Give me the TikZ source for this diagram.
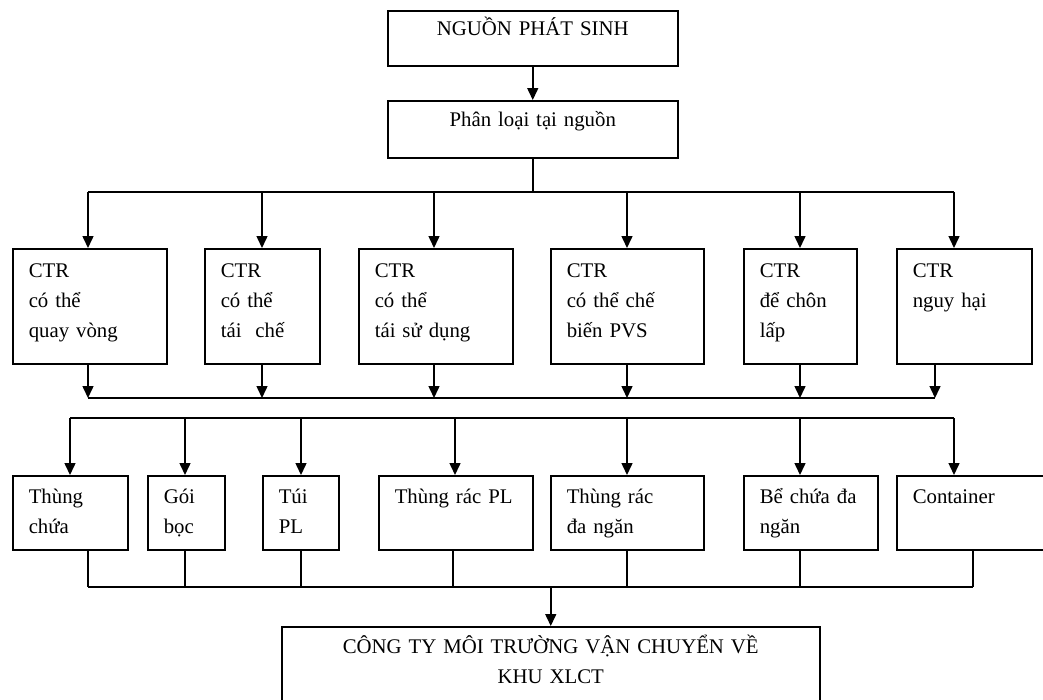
\documentclass[tikz,border=0pt]{standalone}
\usepackage{fontspec}
\setmainfont{Liberation Serif}
\usetikzlibrary{arrows.meta}

\begin{document}
\begin{tikzpicture}[x=1pt,y=-1pt,line width=1.5pt,>={Triangle[length=12pt,width=11pt]},
  every node/.style={font=\fontsize{20.8}{30}\selectfont},
  cell/.style={draw, anchor=north west, inner xsep=16pt, inner ysep=0pt, align=left},
  headcell/.style={draw, anchor=north west, inner xsep=16pt, inner ysep=0pt, align=center}]
  \useasboundingbox (0,0) rectangle (1043,699);

  % top of the chart
  \node[headcell, text width=258pt, text height=25pt, text depth=30pt] (src) at (387,10) {NGUỒN PHÁT SINH};
  \node[headcell, text width=258pt, text height=26pt, text depth=31pt] (sort) at (387,100) {Phân loại tại nguồn};
  \draw[->] (src) -- (sort);

  % kinds of waste
  \foreach \n/\xa/\xb/\ti/\to/\txt [evaluate=\xb as \w using \xb-\xa-32] in {
    r1a/12/166/88/88/{CTR\\có thể\\quay vòng},
    r1b/204/319/262/262/{CTR\\có thể\\tái~ chế},
    r1c/358/512/434/434/{CTR\\có thể\\tái sử dụng},
    r1d/550/703/627/627/{CTR\\có thể chế\\biến PVS},
    r1e/743/856/800/800/{CTR\\để chôn\\lấp},
    r1f/896/1031/954/935/{CTR\\nguy hại}}{
    \node[cell, text width=\w pt, text height=29pt, text depth=86pt] (\n) at (\xa,248) {\txt};
    \coordinate (i\n) at (\ti,192);
    \coordinate (o\n) at (\to,398);
    \draw[->] (i\n) -- (i\n |- \n.north);
    \draw[->] (o\n |- \n.south) -- (o\n);
  }
  \draw (ir1a) -- (ir1f);
  \draw (sort) -- (sort |- ir1a);
  \draw (or1a) -- (or1f);

  % containers
  \foreach \n/\xa/\xb/\ti/\to/\txt [evaluate=\xb as \w using \xb-\xa-32] in {
    r2a/12/127/70/88/{Thùng\\chứa},
    r2b/147/224/185/185/{Gói\\bọc},
    r2c/262/338/301/301/{Túi\\PL},
    r2d/378/532/455/453/{Thùng rác PL},
    r2e/550/703/627/627/{Thùng rác\\đa ngăn},
    r2f/743/877/800/800/{Bể chứa đa\\ngăn},
    r2g/896/1052/954/973/{Container}}{
    \node[cell, text width=\w pt, text height=28pt, text depth=46pt] (\n) at (\xa,475) {\txt};
    \coordinate (i\n) at (\ti,418);
    \coordinate (o\n) at (\to,587);
    \draw[->] (i\n) -- (i\n |- \n.north);
    \draw (o\n |- \n.south) -- (o\n);
  }
  \draw (ir2a) -- (ir2g);
  \draw (or2a) -- (or2g);

  % end
  \node[headcell, text width=506pt, text height=27pt, text depth=52pt] (xlct) at (281,626) {CÔNG TY MÔI TRƯỜNG VẬN CHUYỂN VỀ\\KHU XLCT};
  \draw[->] (xlct.north |- or2a) -- (xlct.north);
\end{tikzpicture}
\end{document}
